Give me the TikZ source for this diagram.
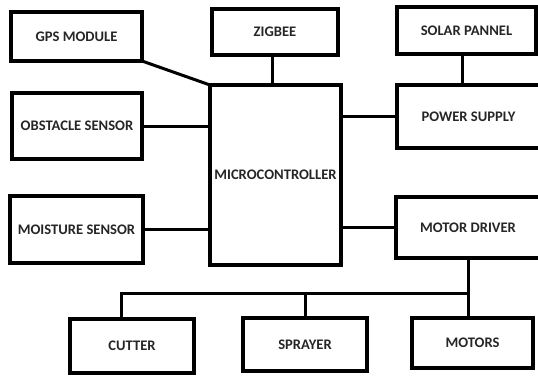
\documentclass[tikz,border=0pt]{standalone}
\usepackage{fontspec}
\setmainfont{Carlito}
\begin{document}
\begin{tikzpicture}[x=1pt,y=-1pt,
  blk/.style={draw=black, line width=3.5pt, inner sep=0pt, outer sep=0pt,
    font=\fontsize{14.6}{16}\selectfont\bfseries, text=black!85},
  con/.style={draw=black, line width=3pt}]
\useasboundingbox (0,0) rectangle (538,375);
\node[blk, minimum width=131pt, minimum height=49pt] (gps) at (76.5,36.5) {GPS MODULE};
\node[blk, minimum width=126pt, minimum height=46pt] (zig) at (275,32) {ZIGBEE};
\node[blk, minimum width=139pt, minimum height=47pt] (solar) at (466.5,30.5) {SOLAR PANNEL};
\node[blk, minimum width=130pt, minimum height=66pt] (obs) at (77,126) {OBSTACLE SENSOR};
\node[blk, minimum width=131pt, minimum height=180pt] (micro) at (275.5,175) {MICROCONTROLLER};
\node[blk, minimum width=143pt, minimum height=63pt] (power) at (468.5,116.5) {POWER SUPPLY};
\node[blk, minimum width=133pt, minimum height=67pt] (moist) at (76.5,229.5) {MOISTURE SENSOR};
\node[blk, minimum width=144pt, minimum height=61pt] (drv) at (468,227.5) {MOTOR DRIVER};
\node[blk, minimum width=124pt, minimum height=54pt] (cutter) at (132,346) {CUTTER};
\node[blk, minimum width=124pt, minimum height=53pt] (spray) at (305,344.5) {SPRAYER};
\node[blk, minimum width=121pt, minimum height=50pt] (motors) at (472.5,343) {MOTORS};
\coordinate (bus) at (468,293);
\draw[con] (gps.south east) -- (micro.north west);
\draw[con] ([xshift=-3pt]zig.south) -- ([xshift=-3pt]zig.south |- micro.north);
\draw[con] ([xshift=-4pt]solar.south) -- ([xshift=-4pt]solar.south |- power.north);
\draw[con] (obs.east) -- (obs.east -| micro.west);
\draw[con] (moist.east) -- (moist.east -| micro.west);
\draw[con] (power.west) -- (power.west -| micro.east);
\draw[con] (drv.west) -- (drv.west -| micro.east);
\draw[con] (drv.south) -- (drv.south |- motors.north);
\draw[con] (bus) -| ([xshift=-11pt]cutter.north);
\draw[con] (bus -| spray.north) -- (spray.north);
\end{tikzpicture}
\end{document}
